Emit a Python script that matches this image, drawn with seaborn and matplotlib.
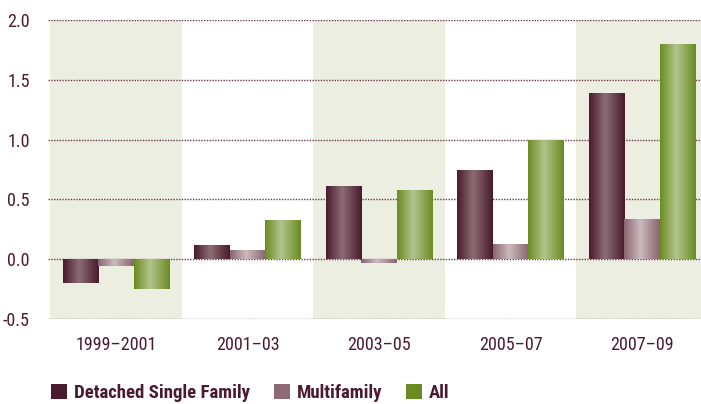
import numpy as np
import pandas as pd
import seaborn as sns
import matplotlib.pyplot as plt
from matplotlib.colors import LinearSegmentedColormap
from matplotlib.patches import Patch

periods = ["1999\u20132001", "2001\u201303", "2003\u201305", "2005\u201307", "2007\u201309"]
detached = [-0.20, 0.12, 0.61, 0.75, 1.39]
multifamily = [-0.06, 0.08, -0.03, 0.13, 0.34]
all_homes = [-0.25, 0.33, 0.58, 1.00, 1.80]
series = ["Detached Single Family", "Multifamily", "All"]
yticks = [-0.5, 0.0, 0.5, 1.0, 1.5, 2.0]

text_color = "#4a1a2e"
flat = ["#4b1a30", "#8e6b72", "#6b8c23"]
# edge colour, centre highlight for the cylinder-ish shading
grads = [("#4a1a2e", "#8c6d73"), ("#8a6570", "#cbbabd"), ("#6b8c23", "#b3c48c")]

sns.set_theme(style="white")
plt.rcParams["font.family"] = ["Roboto Condensed", "DejaVu Sans"]
plt.rcParams["axes.unicode_minus"] = False

df = pd.DataFrame({
    "period": periods * 3,
    "value": detached + multifamily + all_homes,
    "series": [s for s in series for _ in periods],
})

fig = plt.figure(figsize=(7.01, 4.04), dpi=100)
ax = fig.add_axes([48 / 701, 85 / 404, 653 / 701, 299 / 404])

x_lo, x_hi = -0.517, 4.449
for i in range(0, len(periods), 2):
    ax.axvspan(max(i - 0.5, x_lo), i + 0.5, color="#ebeee0", zorder=0, lw=0)
for y in yticks:
    ax.axhline(y, color="#6e3a4c", ls=(0, (1, 1)), lw=1.0, zorder=1)

sns.barplot(data=df, x="period", y="value", hue="series", palette=flat,
            width=0.806, ax=ax, legend=False, zorder=2, linewidth=0)

grad = np.linspace(0, 1, 64).reshape(1, -1)
for container, (edge, mid) in zip(ax.containers, grads):
    cmap = LinearSegmentedColormap.from_list("g", [(0, edge), (0.45, mid), (1, edge)])
    for bar in container:
        x0, y0 = bar.get_x(), bar.get_y()
        w, h = bar.get_width(), bar.get_height()
        im = ax.imshow(grad, extent=[x0, x0 + w, y0, y0 + h], cmap=cmap,
                       aspect="auto", zorder=3, interpolation="bilinear")
        im.set_clip_path(bar)

ax.set_xlim(x_lo, x_hi)
ax.set_ylim(-0.5, 2.0)
ax.set_yticks(yticks)
ax.set_yticklabels([f"{v:.1f}" for v in yticks])
ax.set_xlabel("")
ax.set_ylabel("")
ax.tick_params(axis="both", length=0, colors=text_color, labelsize=13)
ax.tick_params(axis="y", pad=13)
ax.tick_params(axis="x", pad=12)
for s in ax.spines.values():
    s.set_visible(False)

handles = [Patch(facecolor=c, edgecolor="none") for c in flat]
leg = fig.legend(handles, series, loc="center left", bbox_to_anchor=(51 / 701, 11 / 404),
                 ncol=3, frameon=False, borderpad=0, borderaxespad=0,
                 handlelength=0.85, handleheight=0.85,
                 handletextpad=0.35, columnspacing=1.3,
                 prop={"weight": "bold", "size": 13.5})
for t in leg.get_texts():
    t.set_color(text_color)

fig.savefig("out.png", dpi=100)
